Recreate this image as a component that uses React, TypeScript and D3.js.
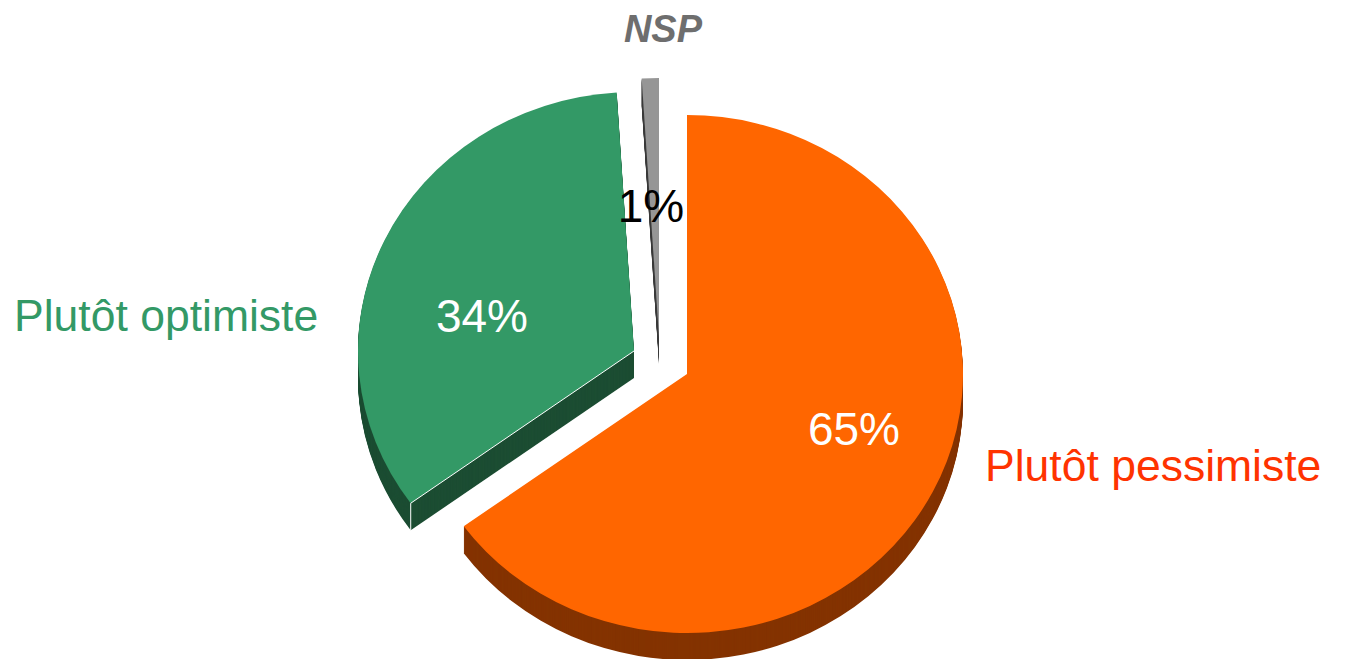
import * as d3 from "d3";
import React from "react";

const categories = ["Plutôt pessimiste", "Plutôt optimiste", "NSP"];
const shares = [65, 34, 1];
const shareLabels = ["65%", "34%", "1%"];

const width = 1351;
const height = 659;
const rx = 276;
const ry = 259;
const depth = 27;

// each slice is pulled out of the pie by hand, so it has its own apex
const apex = [
  { x: 687, y: 374 },
  { x: 634, y: 351 },
  { x: 659, y: 337 },
];
const topColors = ["#ff6600", "#339966", "#969696"];
const wallColors = ["#843300", "#1c4d33", "#3c3c3c"];

const pie = d3.pie<number>().sort(null);
const arc = d3.arc<d3.PieArcDatum<number>>().innerRadius(0).outerRadius(ry);

export default function App() {
  const slices = pie(shares);
  const layers = d3.range(depth, 0, -1);

  // point on the rim of slice i, at the given angle
  const rim = (i: number, angle: number) => ({
    x: apex[i].x + rx * Math.sin(angle),
    y: apex[i].y - ry * Math.cos(angle),
  });
  const greenEdge = rim(1, slices[1].startAngle);
  const edgeLine = d3.line<{ x: number; y: number }>()
    .x(d => d.x)
    .y(d => d.y);

  return (
    <svg
      width={width}
      height={height}
      style={{ position: "absolute", left: 0, top: 0, fontFamily: "'Liberation Sans', Arial, sans-serif" }}
    >
      <rect width={width} height={height} fill="#fff" />
      {slices.map((s, i) => (
        <g key={categories[i]}>
          {layers.map(d => (
            <path
              key={d}
              d={arc(s) as string}
              fill={wallColors[i]}
              transform={`translate(${apex[i].x},${apex[i].y + d}) scale(${rx / ry},1)`}
            />
          ))}
          <path
            d={arc(s) as string}
            fill={topColors[i]}
            transform={`translate(${apex[i].x},${apex[i].y}) scale(${rx / ry},1)`}
          />
        </g>
      ))}
      <path
        d={edgeLine([apex[1], greenEdge, { x: greenEdge.x, y: greenEdge.y + depth }]) as string}
        fill="none"
        stroke="#fff"
        strokeWidth={1}
      />

      <text x={14} y={331} fontSize={44.5} fill="#339966">{categories[1]}</text>
      <text x={985} y={481} fontSize={44.5} fill="#ff3300">{categories[0]}</text>
      <text x={663} y={42} fontSize={38} fontWeight="bold" fontStyle="italic" fill="#6e6e6e" textAnchor="middle">{categories[2]}</text>

      <text x={854} y={445} fontSize={46} fill="#fff" textAnchor="middle">{shareLabels[0]}</text>
      <text x={482} y={332} fontSize={46} fill="#fff" textAnchor="middle">{shareLabels[1]}</text>
      <text x={651} y={222} fontSize={46} fill="#000" textAnchor="middle">{shareLabels[2]}</text>
    </svg>
  );
}
